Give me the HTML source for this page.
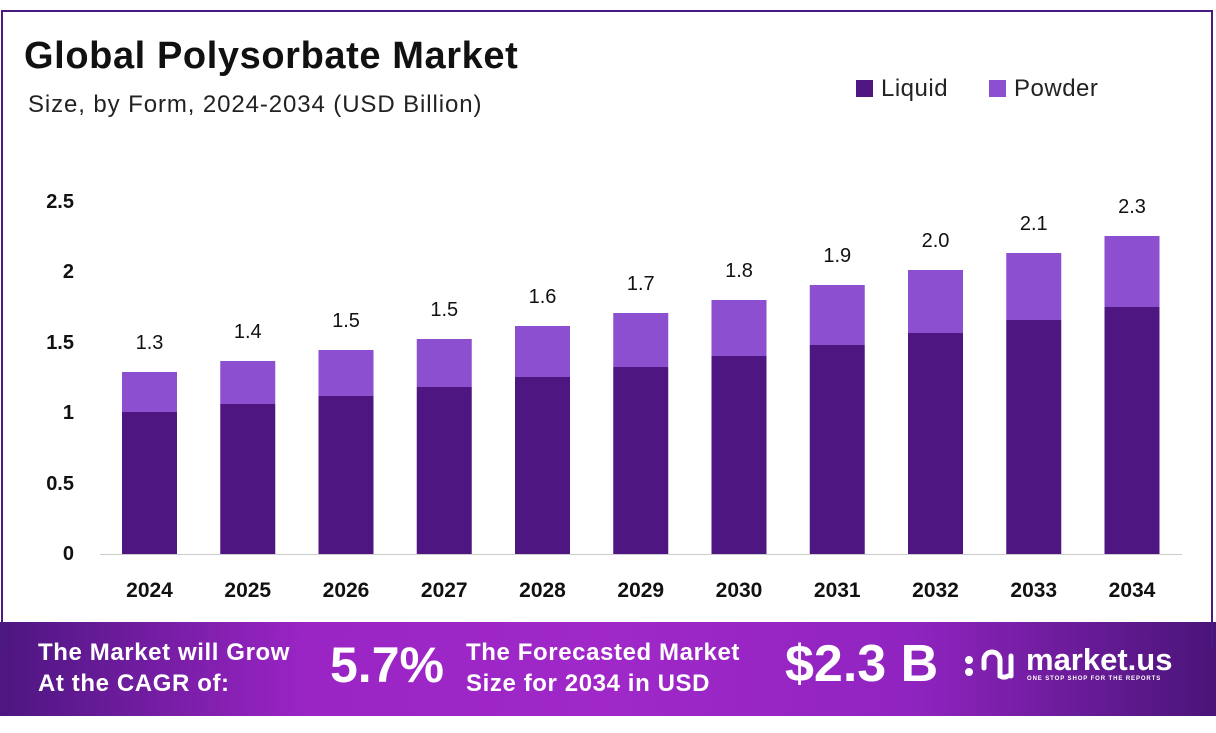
<!DOCTYPE html><html><head><style>
body{margin:0;width:1216px;height:733px;background:#fff;position:relative;overflow:hidden;font-family:"Liberation Sans",sans-serif}
.frame{position:absolute;left:1px;top:10px;width:1212px;height:640px;border:2px solid #4a1a80;border-bottom:none;box-sizing:border-box}
.t{position:absolute;white-space:nowrap}
.banner{position:absolute;left:0;top:622px;width:1216px;height:94px;background:linear-gradient(90deg,#4d1680 0%,#9a24c4 25%,#a028c8 50%,#9024c0 75%,#4a1478 100%)}
.b{position:absolute;color:#fff;font-weight:bold;white-space:nowrap}
</style></head><body>
<div class="frame"></div>
<div class="t" style="left:24px;top:35px;font-size:38px;font-weight:bold;color:#111;letter-spacing:0.6px">Global Polysorbate Market</div>
<div class="t" style="left:28px;top:91px;font-size:24px;color:#222;letter-spacing:0.9px">Size, by Form, 2024-2034 (USD Billion)</div>
<div style="position:absolute;left:856px;top:80px;width:17px;height:17px;background:#4e1680"></div>
<div class="t" style="left:881px;top:75px;font-size:24px;color:#222;letter-spacing:0.5px">Liquid</div>
<div style="position:absolute;left:989px;top:80px;width:17px;height:17px;background:#8b4fd0"></div>
<div class="t" style="left:1014px;top:75px;font-size:24px;color:#222;letter-spacing:0.5px">Powder</div>
<svg width="1216" height="733" style="position:absolute;left:0;top:0">
<g font-family="Liberation Sans" font-weight="bold" font-size="20" fill="#111" text-anchor="end">
<text x="74" y="208">2.5</text><text x="74" y="278">2</text><text x="74" y="349">1.5</text><text x="74" y="419">1</text><text x="74" y="490">0.5</text><text x="74" y="560">0</text>
</g>
<line x1="100" y1="554.5" x2="1182" y2="554.5" stroke="#ccc" stroke-width="1"/>
<g id="bars"></g>
<g fill="none" stroke="#fff" stroke-width="5" stroke-linecap="round">
<path d="M984 668 v-8 a8 8 0 0 1 16 0 v16 a8 8 0 0 0 8 0"/>
<path d="M1011 656 v20"/>
<circle cx="969" cy="660" r="1.5" fill="#fff"/><circle cx="969" cy="672" r="1.5" fill="#fff"/>
</g>
</svg>
<div class="banner" style="z-index:-1"></div>
<div class="b" style="left:38px;top:637px;font-size:24px;line-height:31px;letter-spacing:0.6px">The Market will Grow<br>At the CAGR of:</div>
<div class="b" style="left:330px;top:636px;font-size:50px">5.7%</div>
<div class="b" style="left:466px;top:637px;font-size:24px;line-height:31px;letter-spacing:0.6px">The Forecasted Market<br>Size for 2034 in USD</div>
<div class="b" style="left:785px;top:634px;font-size:52px">$2.3 B</div>
<div class="b" style="left:1026px;top:642px;font-size:31px">market.us</div>
<div class="b" style="left:1027px;top:676px;font-size:6px;letter-spacing:0.9px">ONE STOP SHOP FOR THE REPORTS</div>
<script>
var d=[[2024,372,412,"1.3"],[2025,361,404,"1.4"],[2026,350,396,"1.5"],[2027,339,387,"1.5"],[2028,326,377,"1.6"],[2029,313,367,"1.7"],[2030,300,356,"1.8"],[2031,285,345,"1.9"],[2032,270,333,"2.0"],[2033,253,320,"2.1"],[2034,236,307,"2.3"]];
var s="";d.forEach(function(r,i){var c=149.5+i*98.25,x=c-27.5;
s+='<rect x="'+x+'" y="'+r[1]+'" width="55" height="'+(r[2]-r[1])+'" fill="#8b4fd0"/>';
s+='<rect x="'+x+'" y="'+r[2]+'" width="55" height="'+(554-r[2])+'" fill="#4e1680"/>';
s+='<text x="'+c+'" y="'+(r[1]-23)+'" text-anchor="middle" font-family="Liberation Sans" font-size="20" fill="#111">'+r[3]+'</text>';
s+='<text x="'+c+'" y="597" text-anchor="middle" font-family="Liberation Sans" font-weight="bold" font-size="21" fill="#111">'+r[0]+'</text>';});
document.getElementById("bars").innerHTML=s;
</script>
</body></html>
